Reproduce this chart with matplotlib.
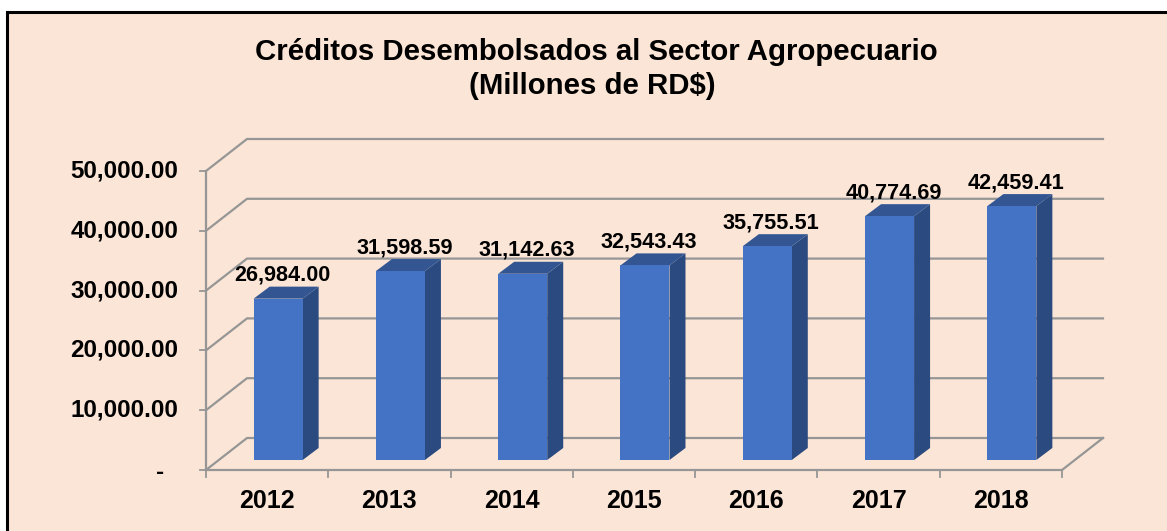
import matplotlib
matplotlib.use('Agg')
import matplotlib.pyplot as plt
from matplotlib.patches import Polygon, Rectangle

years = ['2012', '2013', '2014', '2015', '2016', '2017', '2018']
creditos = [26984.00, 31598.59, 31142.63, 32543.43, 35755.51, 40774.69, 42459.41]
y_ticks = [0, 10000, 20000, 30000, 40000, 50000]

W, H = 1167, 531
BG = '#FBE5D6'
GRID = '#969696'
FRONT = '#4472C4'
SIDE = '#2B4A80'
TOP = '#335693'

plt.rcParams['font.family'] = ['Liberation Sans', 'DejaVu Sans']
plt.rcParams['font.weight'] = 'bold'

fig = plt.figure(figsize=(W / 100, H / 100), dpi=100, facecolor='white')

# panel background with the black frame, in pixel coords
fig.add_artist(Rectangle((6.5 / W, -0.02), (W + 10) / W, 1.02 - 12.2 / H,
                         transform=fig.transFigure, facecolor=BG,
                         edgecolor='black', linewidth=2.2, zorder=-1))

# front plane of the fake 3d box
ax = fig.add_axes([206 / W, 1 - 470 / H, 856 / W, 299 / H])
ax.set_xlim(0, 7)
ax.set_ylim(0, 50000)
ax.axis('off')

# pixels -> data units
px = 7 / 856
py = 50000 / 299
back_x, back_y = 41 * px, 32 * py

# walls and gridlines
for v in y_ticks:
    ax.plot([0, back_x, 7 + back_x], [v, v + back_y, v + back_y],
            color=GRID, lw=1.6, clip_on=False, zorder=1, solid_joinstyle='miter')
    ax.plot([-6 * px, 0], [v, v], color=GRID, lw=1.3, clip_on=False, zorder=1)
    if v == 0:
        # accounting format, the dash sits left of the digits
        ax.text(-42 * px, -2 * py, '-', ha='right', va='center', fontsize=17.4, color='black')
    else:
        ax.text(-27.5 * px, v, f'{v:,.2f}', ha='right', va='center', fontsize=17.4, color='black')
ax.plot([0, 0], [0, 50000], color=GRID, lw=1.6, clip_on=False, zorder=1)
ax.plot([0, 7, 7 + back_x], [0, 0, back_y], color=GRID, lw=1.6,
        clip_on=False, zorder=1, solid_joinstyle='miter')
for i in range(8):
    ax.plot([i, i], [0, -7 * py], color=GRID, lw=1.3, clip_on=False, zorder=1)

# bars
bar_w = 49 * px
dx, dy = 16 * px, 12 * py
off_x, off_y = 11 * px, 10 * py
for i, val in enumerate(creditos):
    x0 = i + 0.5 - bar_w / 2 + off_x
    x1 = x0 + bar_w
    y0 = off_y
    y1 = val + off_y
    ax.add_patch(Polygon([(x1, y0), (x1 + dx, y0 + dy), (x1 + dx, y1 + dy), (x1, y1)],
                         facecolor=SIDE, edgecolor='none', clip_on=False, zorder=2))
    ax.add_patch(Polygon([(x0, y1), (x0 + dx, y1 + dy), (x1 + dx, y1 + dy), (x1, y1)],
                         facecolor=TOP, edgecolor='none', clip_on=False, zorder=2))
    ax.add_patch(Rectangle((x0, y0), bar_w, val, facecolor=FRONT, edgecolor='none',
                           clip_on=False, zorder=3))
    ax.text(x0 + bar_w / 2 + 4 * px, y1 + dy + 1 * py, f'{val:,.2f}', ha='center', va='bottom',
            fontsize=15.6, color='black', zorder=4)
    ax.text(i + 0.5, -31 * py, years[i], ha='center', va='center',
            fontsize=18, color='black')

fig.text(596.5 / W, 1 - 52 / H, 'Créditos Desembolsados al Sector Agropecuario',
         ha='center', va='center', fontsize=21.2)
fig.text(592 / W, 1 - 86 / H, '(Millones de RD$)', ha='center', va='center', fontsize=21.2)

fig.savefig('out.png', dpi=100)
